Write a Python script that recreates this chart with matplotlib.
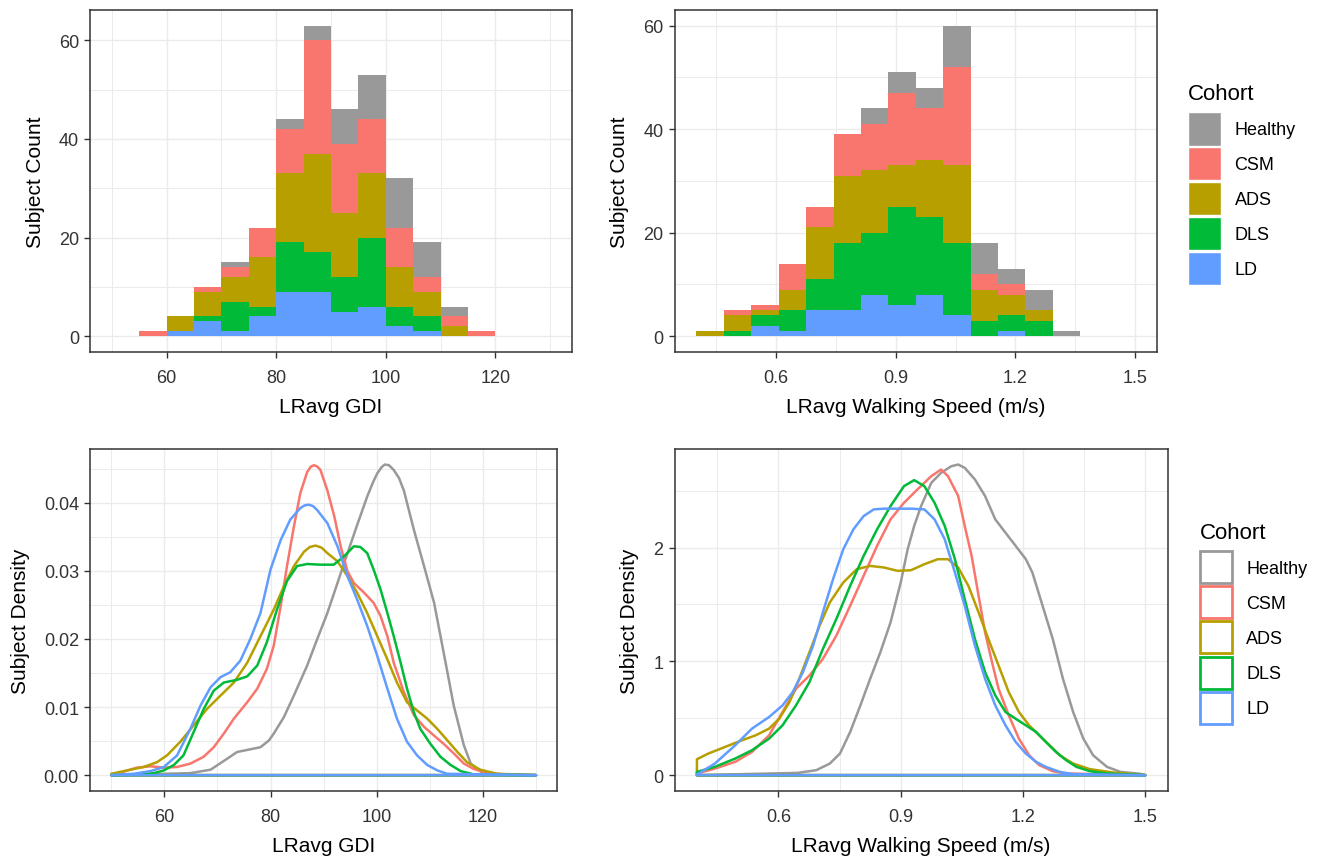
import matplotlib
matplotlib.use("Agg")
import matplotlib.pyplot as plt
from matplotlib.patches import Patch
from matplotlib.ticker import FixedLocator

plt.rcParams['font.family'] = ['Liberation Sans', 'DejaVu Sans']

# ---------------- data ----------------
cohorts = ["Healthy", "CSM", "ADS", "DLS", "LD"]
colors = {"Healthy": "#999999", "CSM": "#F8766D", "ADS": "#B79F00",
          "DLS": "#00BA38", "LD": "#619CFF"}

# GDI histogram: bin left edges (width 5)
gdi_bin_left = [50, 55, 60, 65, 70, 75, 80, 85, 90, 95, 100, 105, 110, 115, 120, 125]
gdi_bin_width = 5
gdi_LD      = [0, 0, 1, 3, 1, 4, 9, 9, 5, 6, 2, 1, 0, 0, 0, 0]
gdi_DLS     = [0, 0, 0, 1, 6, 2, 10, 8, 7, 14, 4, 3, 0, 0, 0, 0]
gdi_ADS     = [0, 0, 3, 5, 5, 10, 14, 20, 13, 13, 8, 5, 2, 0, 0, 0]
gdi_CSM     = [0, 1, 0, 1, 2, 6, 9, 23, 14, 11, 8, 3, 2, 1, 0, 0]
gdi_Healthy = [0, 0, 0, 0, 1, 0, 2, 3, 7, 9, 10, 7, 2, 0, 0, 0]

# Walking speed histogram: bin left edges (width 0.06875)
spd_bin_left = [0.4, 0.46875, 0.5375, 0.60625, 0.675, 0.74375, 0.8125, 0.88125,
                0.95, 1.01875, 1.0875, 1.15625, 1.225, 1.29375, 1.3625, 1.43125]
spd_bin_width = 0.06875
spd_LD      = [0, 0, 2, 1, 5, 5, 8, 6, 8, 4, 0, 1, 0, 0, 0, 0]
spd_DLS     = [0, 1, 2, 4, 6, 13, 12, 19, 15, 14, 3, 3, 3, 0, 0, 0]
spd_ADS     = [1, 3, 1, 4, 10, 13, 12, 8, 11, 15, 6, 4, 2, 0, 0, 0]
spd_CSM     = [0, 1, 1, 5, 4, 8, 9, 14, 10, 19, 3, 2, 0, 0, 0, 0]
spd_Healthy = [0, 0, 0, 0, 0, 0, 3, 4, 4, 8, 6, 3, 4, 1, 0, 0]

# GDI density curves
gdi_den_Healthy_x = [64.9, 68.7, 71.8, 73.7, 76.2, 78.1, 79.7, 80.6, 82.5, 84.4, 86.9, 88.8, 90.7, 92.6, 94.5,
                     96.3, 98.2, 99.3, 100.1, 100.9, 101.5, 102.3, 103.2, 104.2, 105.1, 107.0, 108.9, 110.8,
                     112.6, 114.5, 116.4, 117.7, 119.6, 122.1]
gdi_den_Healthy_y = [0.0003, 0.0008, 0.0024, 0.0034, 0.0038, 0.0041, 0.0051, 0.0061, 0.0085, 0.0117, 0.0161,
                     0.0200, 0.0238, 0.0282, 0.0326, 0.0367, 0.0409, 0.0430, 0.0443, 0.0452, 0.0456, 0.0455,
                     0.0448, 0.0436, 0.0418, 0.0360, 0.0307, 0.0253, 0.0180, 0.0102, 0.0044, 0.0017, 0.0005,
                     0.0001]
gdi_den_CSM_x = [50.0, 52.3, 54.8, 57.4, 59.9, 62.4, 64.9, 67.4, 69.3, 71.2, 73.1, 75.6, 77.5, 79.3, 80.6, 81.9,
                 83.1, 84.4, 85.6, 86.9, 87.6, 88.2, 88.8, 89.4, 90.7, 92.0, 93.2, 94.5, 95.7, 97.6, 99.4, 100.7,
                 102.0, 103.2, 105.1, 107.0, 108.9, 110.8, 112.6, 114.5, 116.4, 118.3, 120.8, 124.6]
gdi_den_CSM_y = [0.0001, 0.0005, 0.0011, 0.0013, 0.0011, 0.0012, 0.0017, 0.0027, 0.0041, 0.0061, 0.0083,
                 0.0107, 0.0127, 0.0156, 0.0190, 0.0248, 0.0307, 0.0365, 0.0414, 0.0445, 0.0453, 0.0455,
                 0.0453, 0.0448, 0.0418, 0.0380, 0.0336, 0.0299, 0.0282, 0.0268, 0.0253, 0.0234, 0.0204,
                 0.0165, 0.0122, 0.0088, 0.0071, 0.0058, 0.0046, 0.0032, 0.0017, 0.0009, 0.0003, 0.0001]
gdi_den_ADS_x = [50.0, 53.0, 56.1, 58.6, 60.5, 63.0, 65.5, 68.0, 70.6, 73.1, 75.6, 78.1, 80.6, 82.5, 84.4,
                 86.3, 87.4, 88.5, 89.6, 90.7, 92.6, 94.5, 96.3, 98.2, 100.1, 102.0, 103.8, 105.7, 107.6,
                 109.5, 111.4, 113.3, 115.2, 117.0, 119.5, 122.7]
gdi_den_ADS_y = [0.0002, 0.0007, 0.0012, 0.0019, 0.0029, 0.0049, 0.0073, 0.0097, 0.0117, 0.0136, 0.0165,
                 0.0204, 0.0243, 0.0277, 0.0307, 0.0328, 0.0335, 0.0337, 0.0334, 0.0326, 0.0314, 0.0292,
                 0.0268, 0.0238, 0.0204, 0.0170, 0.0136, 0.0107, 0.0095, 0.0083, 0.0068, 0.0051, 0.0034,
                 0.0019, 0.0008, 0.0002]
gdi_den_DLS_x = [55.5, 58.0, 59.9, 61.8, 63.6, 65.5, 67.4, 69.3, 71.2, 73.7, 75.6, 77.5, 79.3, 81.2, 83.1,
                 85.0, 86.9, 89.4, 91.9, 93.8, 95.7, 96.9, 98.2, 99.4, 100.7, 102.0, 103.2, 104.5, 105.7,
                 107.0, 108.2, 110.1, 112.0, 113.9, 115.8, 118.3]
gdi_den_DLS_y = [0.0001, 0.0003, 0.0007, 0.0015, 0.0029, 0.0063, 0.0097, 0.0124, 0.0136, 0.0140, 0.0145,
                 0.0161, 0.0195, 0.0243, 0.0285, 0.0307, 0.0310, 0.0309, 0.0309, 0.0321, 0.0336, 0.0335,
                 0.0326, 0.0302, 0.0273, 0.0238, 0.0204, 0.0165, 0.0127, 0.0092, 0.0068, 0.0046, 0.0027,
                 0.0015, 0.0006, 0.0001]
gdi_den_LD_x = [54.2, 57.4, 59.9, 62.4, 64.9, 66.8, 68.7, 70.6, 72.4, 74.3, 76.2, 78.1, 80.0, 81.9, 83.7,
                85.6, 86.4, 87.2, 88.0, 88.8, 90.7, 92.6, 94.5, 96.3, 98.2, 100.1, 102.0, 103.8, 105.7, 107.6,
                109.5, 111.4, 113.3]
gdi_den_LD_y = [0.0002, 0.0006, 0.0012, 0.0029, 0.0068, 0.0102, 0.0129, 0.0144, 0.0151, 0.0168, 0.0200,
                0.0238, 0.0302, 0.0345, 0.0375, 0.0392, 0.0396, 0.0397, 0.0395, 0.0389, 0.0370, 0.0336,
                0.0292, 0.0258, 0.0219, 0.0175, 0.0127, 0.0083, 0.0049, 0.0029, 0.0015, 0.0007, 0.0002]

# Walking speed density curves
spd_den_Healthy_x = [0.647, 0.693, 0.726, 0.751, 0.776, 0.801, 0.825, 0.850, 0.875, 0.900, 0.917, 0.933,
                     0.950, 0.975, 0.999, 1.024, 1.041, 1.057, 1.082, 1.107, 1.132, 1.157, 1.182, 1.207,
                     1.223, 1.248, 1.273, 1.298, 1.323, 1.348, 1.372, 1.406, 1.439, 1.488]
spd_den_Healthy_y = [0.020, 0.044, 0.102, 0.190, 0.380, 0.613, 0.847, 1.080, 1.343, 1.693, 1.985, 2.190,
                     2.365, 2.569, 2.657, 2.715, 2.730, 2.701, 2.599, 2.453, 2.248, 2.131, 2.015, 1.898,
                     1.781, 1.489, 1.197, 0.847, 0.555, 0.321, 0.175, 0.073, 0.029, 0.012]
spd_den_CSM_x = [0.400, 0.444, 0.494, 0.535, 0.577, 0.610, 0.643, 0.676, 0.709, 0.742, 0.776, 0.809, 0.842,
                 0.875, 0.908, 0.941, 0.975, 0.999, 1.016, 1.041, 1.057, 1.074, 1.091, 1.107, 1.124, 1.140,
                 1.165, 1.190, 1.215, 1.240, 1.273, 1.306]
spd_den_CSM_y = [0.015, 0.058, 0.117, 0.204, 0.350, 0.555, 0.759, 0.876, 1.022, 1.226, 1.489, 1.752, 2.015,
                 2.248, 2.394, 2.511, 2.628, 2.686, 2.628, 2.453, 2.190, 1.927, 1.577, 1.255, 0.993, 0.759,
                 0.526, 0.321, 0.175, 0.088, 0.035, 0.015]
spd_den_ADS_x = [0.400, 0.428, 0.469, 0.511, 0.544, 0.577, 0.602, 0.627, 0.651, 0.676, 0.701, 0.726, 0.759,
                 0.792, 0.825, 0.859, 0.892, 0.925, 0.958, 0.991, 1.016, 1.041, 1.066, 1.091, 1.115, 1.140,
                 1.165, 1.190, 1.215, 1.240, 1.265, 1.290, 1.323, 1.364, 1.422, 1.464]
spd_den_ADS_y = [0.140, 0.190, 0.248, 0.307, 0.350, 0.409, 0.496, 0.642, 0.847, 1.080, 1.314, 1.518, 1.693,
                 1.810, 1.839, 1.825, 1.796, 1.801, 1.854, 1.898, 1.898, 1.825, 1.664, 1.431, 1.197, 0.964,
                 0.730, 0.555, 0.438, 0.350, 0.263, 0.175, 0.102, 0.053, 0.023, 0.012]
spd_den_DLS_x = [0.400, 0.444, 0.494, 0.535, 0.577, 0.610, 0.643, 0.676, 0.709, 0.742, 0.776, 0.809, 0.842,
                 0.875, 0.908, 0.933, 0.958, 0.983, 1.008, 1.033, 1.057, 1.082, 1.107, 1.132, 1.157, 1.182,
                 1.207, 1.232, 1.256, 1.281, 1.306, 1.331, 1.364, 1.406]
spd_den_DLS_y = [0.029, 0.073, 0.146, 0.219, 0.321, 0.438, 0.613, 0.818, 1.109, 1.372, 1.664, 1.927, 2.161,
                 2.365, 2.540, 2.593, 2.540, 2.394, 2.190, 1.898, 1.547, 1.197, 0.905, 0.701, 0.555, 0.496,
                 0.438, 0.380, 0.292, 0.204, 0.131, 0.073, 0.035, 0.015]
spd_den_LD_x = [0.400, 0.444, 0.494, 0.535, 0.577, 0.610, 0.635, 0.660, 0.685, 0.709, 0.734, 0.759, 0.784,
                0.809, 0.834, 0.859, 0.892, 0.925, 0.958, 0.983, 1.008, 1.033, 1.057, 1.082, 1.107, 1.132,
                1.157, 1.182, 1.207, 1.232, 1.256, 1.290, 1.323]
spd_den_LD_y = [0.006, 0.102, 0.263, 0.409, 0.511, 0.613, 0.730, 0.905, 1.139, 1.431, 1.723, 1.985, 2.161,
                2.277, 2.336, 2.342, 2.342, 2.342, 2.336, 2.248, 2.073, 1.781, 1.489, 1.139, 0.847, 0.613,
                0.438, 0.292, 0.190, 0.117, 0.073, 0.029, 0.009]

gdi_range = (50, 130)
spd_range = (0.4, 1.5)

# ---------------- figure ----------------
W, H = 1320, 862
fig = plt.figure(figsize=(W / 100, H / 100), dpi=100)


def ax_px(l, t, r, b):
    return fig.add_axes([l / W, 1 - b / H, (r - l) / W, (b - t) / H])


ax_tl = ax_px(90, 11, 572, 352.7)
ax_tr = ax_px(674.5, 11, 1157, 352.7)
ax_bl = ax_px(90, 450, 557.3, 791.7)
ax_br = ax_px(674.5, 450, 1167.7, 791.7)

TICK_COL = '#333333'
FS_TICK = 13
FS_LAB = 15


def style(ax, xmaj, xmin, ymaj, ymin, xfmt, yfmt):
    ax.set_facecolor('white')
    for s in ax.spines.values():
        s.set_color('#333333')
        s.set_linewidth(1.1)
    ax.xaxis.set_major_locator(FixedLocator(xmaj))
    ax.xaxis.set_minor_locator(FixedLocator(xmin))
    ax.yaxis.set_major_locator(FixedLocator(ymaj))
    ax.yaxis.set_minor_locator(FixedLocator(ymin))
    ax.set_xticklabels([xfmt.format(v) for v in xmaj])
    ax.set_yticklabels([yfmt.format(v) for v in ymaj])
    ax.grid(True, which='major', color='#EBEBEB', linewidth=1.0, zorder=0)
    ax.grid(True, which='minor', color='#EBEBEB', linewidth=0.7, zorder=0)
    ax.set_axisbelow(True)
    ax.tick_params(which='major', length=4, width=1.0, color='#333333',
                   labelsize=FS_TICK, labelcolor=TICK_COL)
    ax.tick_params(axis='x', which='major', pad=8.5)
    ax.tick_params(axis='y', which='major', pad=4)
    ax.tick_params(which='minor', length=0)


def stacked_hist(ax, lefts, width, layers):
    bottom = [0] * len(lefts)
    for name, counts in layers:
        ax.bar(lefts, counts, width=width, bottom=bottom, align='edge',
               color=colors[name], linewidth=0, zorder=2)
        bottom = [b + c for b, c in zip(bottom, counts)]


# Top-left: GDI histogram
stacked_hist(ax_tl, gdi_bin_left, gdi_bin_width,
             [("LD", gdi_LD), ("DLS", gdi_DLS), ("ADS", gdi_ADS), ("CSM", gdi_CSM), ("Healthy", gdi_Healthy)])
ax_tl.set_xlim(46, 134)
ax_tl.set_ylim(-3.15, 66.15)
style(ax_tl, [60, 80, 100, 120], [50, 70, 90, 110, 130], [0, 20, 40, 60], [10, 30, 50], "{:g}", "{:g}")
ax_tl.set_xlabel("LRavg GDI", fontsize=FS_LAB, labelpad=8)
ax_tl.set_ylabel("Subject Count", fontsize=FS_LAB, labelpad=10)

# Top-right: speed histogram
stacked_hist(ax_tr, spd_bin_left, spd_bin_width,
             [("LD", spd_LD), ("DLS", spd_DLS), ("ADS", spd_ADS), ("CSM", spd_CSM), ("Healthy", spd_Healthy)])
ax_tr.set_xlim(0.345, 1.555)
ax_tr.set_ylim(-3, 63)
style(ax_tr, [0.6, 0.9, 1.2, 1.5], [0.45, 0.75, 1.05, 1.35], [0, 20, 40, 60], [10, 30, 50], "{:.1f}", "{:g}")
ax_tr.set_xlabel("LRavg Walking Speed (m/s)", fontsize=FS_LAB, labelpad=8)
ax_tr.set_ylabel("Subject Count", fontsize=FS_LAB, labelpad=10)


def density(ax, xs, ys, rng, name):
    px = [rng[0]] + list(xs) + [rng[1]]
    py = [0] + list(ys) + [0]
    ax.fill(px, py, facecolor='none', edgecolor=colors[name], linewidth=1.8,
            joinstyle='round', zorder=3)


gdi_den = {"Healthy": (gdi_den_Healthy_x, gdi_den_Healthy_y), "CSM": (gdi_den_CSM_x, gdi_den_CSM_y),
           "ADS": (gdi_den_ADS_x, gdi_den_ADS_y), "DLS": (gdi_den_DLS_x, gdi_den_DLS_y),
           "LD": (gdi_den_LD_x, gdi_den_LD_y)}
spd_den = {"Healthy": (spd_den_Healthy_x, spd_den_Healthy_y), "CSM": (spd_den_CSM_x, spd_den_CSM_y),
           "ADS": (spd_den_ADS_x, spd_den_ADS_y), "DLS": (spd_den_DLS_x, spd_den_DLS_y),
           "LD": (spd_den_LD_x, spd_den_LD_y)}

for name in cohorts:
    density(ax_bl, *gdi_den[name], gdi_range, name)
    density(ax_br, *spd_den[name], spd_range, name)

ax_bl.set_xlim(46, 134)
ax_bl.set_ylim(-0.00228, 0.04788)
style(ax_bl, [60, 80, 100, 120], [50, 70, 90, 110, 130], [0, 0.01, 0.02, 0.03, 0.04],
      [0.005, 0.015, 0.025, 0.035, 0.045], "{:g}", "{:.2f}")
ax_bl.set_xlabel("LRavg GDI", fontsize=FS_LAB, labelpad=8)
ax_bl.set_ylabel("Subject Density", fontsize=FS_LAB, labelpad=10)

ax_br.set_xlim(0.345, 1.555)
ax_br.set_ylim(-0.1365, 2.8665)
style(ax_br, [0.6, 0.9, 1.2, 1.5], [0.45, 0.75, 1.05, 1.35], [0, 1, 2], [0.5, 1.5, 2.5], "{:.1f}", "{:g}")
ax_br.set_xlabel("LRavg Walking Speed (m/s)", fontsize=FS_LAB, labelpad=8)
ax_br.set_ylabel("Subject Density", fontsize=FS_LAB, labelpad=10)

# Legends
fill_handles = [Patch(facecolor=colors[c], edgecolor='white', linewidth=1.0) for c in cohorts]
leg1 = fig.legend(fill_handles, cohorts, title="Cohort", loc='upper left',
                  bbox_to_anchor=(1188 / W, 1 - 84 / H), frameon=False, fontsize=13,
                  title_fontsize=16, handlelength=1.83, handleheight=2.45, labelspacing=0.1,
                  handletextpad=0.75, borderpad=0, borderaxespad=0, alignment='left')
leg1._legend_box.sep = 6

line_handles = [Patch(facecolor='white', edgecolor=colors[c], linewidth=2.0) for c in cohorts]
leg2 = fig.legend(line_handles, cohorts, title="Cohort", loc='upper left',
                  bbox_to_anchor=(1200 / W, 1 - 523 / H), frameon=False, fontsize=13,
                  title_fontsize=16, handlelength=1.75, handleheight=2.35, labelspacing=0.17,
                  handletextpad=0.8, borderpad=0, borderaxespad=0, alignment='left')
leg2._legend_box.sep = 6

fig.savefig("out.png", dpi=100, facecolor='white')
